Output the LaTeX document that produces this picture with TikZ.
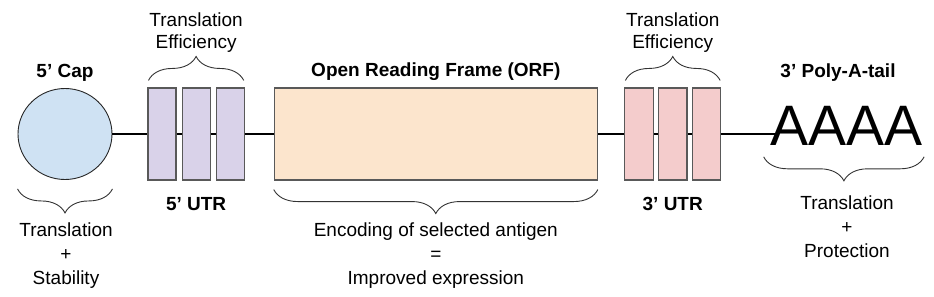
\documentclass[tikz,border=0pt]{standalone}
\usepackage{fontspec}
\setmainfont{Liberation Sans}
\usepackage{tikz}
\usetikzlibrary{positioning,calc,decorations.pathreplacing,shapes.geometric}
\definecolor{capblue}{HTML}{CFE2F3}
\definecolor{lilac}{HTML}{D9D2E9}
\definecolor{peach}{HTML}{FCE5CD}
\definecolor{rose}{HTML}{F4CCCC}
\definecolor{boxgray}{HTML}{595959}

\begin{document}
\begin{tikzpicture}[
  x=1pt,y=-1pt,
  capdisc/.style={ellipse,draw=black!85,fill=capblue,line width=0.9pt,minimum width=94pt,minimum height=91pt,inner sep=0pt},
  utrfive/.style={rectangle,draw=boxgray,fill=lilac,line width=1.1pt,minimum width=28pt,minimum height=92pt,inner sep=0pt},
  utrthree/.style={rectangle,draw=boxgray,fill=rose,line width=1.1pt,minimum width=28.5pt,minimum height=92pt,inner sep=0pt},
  frame/.style={rectangle,draw=boxgray,fill=peach,line width=1.1pt,minimum width=323pt,minimum height=92pt,inner sep=0pt},
  hdr/.style={font=\bfseries\fontsize{19}{24}\selectfont,inner sep=0pt},
  note/.style={align=center,font=\fontsize{19}{24}\selectfont,inner sep=0pt},
  topnote/.style={align=center,font=\fontsize{19}{21.5}\selectfont,inner sep=0pt},
  brc/.style={decorate,decoration={brace,amplitude=24pt},line width=0.9pt,draw=black!80},
  strand/.style={line width=2.8pt,draw=black}
]
\useasboundingbox (0,0) rectangle (934,297);
% the mRNA strand
\node[capdisc] (fivecap) at (65,134) {};
\node[utrfive,right=35pt of fivecap] (u5a) {};
\node[utrfive,right=5pt of u5a] (u5b) {};
\node[utrfive,right=5pt of u5b] (u5c) {};
\node[frame,right=29pt of u5c] (orf) {};
\node[utrthree,right=26.5pt of orf] (u3a) {};
\node[utrthree,right=4pt of u3a] (u3b) {};
\node[utrthree,right=4pt of u3b] (u3c) {};
\node[inner sep=0pt,font=\fontsize{57}{60}\selectfont,right=49.5pt of u3c,yshift=8pt] (tail) {AAAA};
\coordinate (tailend) at ($(u3c -| tail.west)+(6,0)$);
\draw[strand] (fivecap) -- (u5a);
\draw[strand] (u5a) -- (u5b);
\draw[strand] (u5b) -- (u5c);
\draw[strand] (u5c) -- (orf);
\draw[strand] (orf) -- (u3a);
\draw[strand] (u3a) -- (u3b);
\draw[strand] (u3b) -- (u3c);
\draw[strand] (u3c) -- (tailend);
% headings
\node[hdr,anchor=base] (caplbl) at (fivecap |- 0,77) {5’ Cap};
\node[hdr,anchor=base] (orflbl) at (orf |- 0,76) {Open Reading Frame (ORF)};
\node[hdr,anchor=base] (taillbl) at (838,77) {3’ Poly-A-tail};
\node[hdr,anchor=base] (u5lbl) at (u5b |- 0,210) {5’ UTR};
\node[hdr,anchor=base] (u3lbl) at (u3b |- 0,210) {3’ UTR};
% braces and notes
\draw[brc] ($(u5a.north west)+(1,-7)$) -- ($(u5c.north east)+(-1,-7)$);
\draw[brc] ($(u3a.north west)+(1,-7)$) -- ($(u3c.north east)+(-1,-7)$);
\draw[brc] ($(fivecap.south -| fivecap.east)+(0,9)$) -- ($(fivecap.south -| fivecap.west)+(0,9)$);
\draw[brc] ($(orf.south east)+(0,9)$) -- ($(orf.south west)+(0,9)$);
\draw[brc] ($(tail.south east)+(1,11)$) -- ($(tail.south west)+(-7,11)$);
\node[topnote,anchor=north] (u5note) at (u5b |- 0,13) {Translation\\Efficiency};
\node[topnote,anchor=north] (u3note) at (u3b |- 0,13) {Translation\\Efficiency};
\node[note,anchor=north] (capnote) at (66,223) {Translation\\+\\Stability};
\node[note,anchor=north] (orfnote) at (orf |- 0,223) {Encoding of selected antigen\\=\\Improved expression};
\node[note,anchor=north] (tailnote) at (847,196) {Translation\\+\\Protection};
\end{tikzpicture}
\end{document}
